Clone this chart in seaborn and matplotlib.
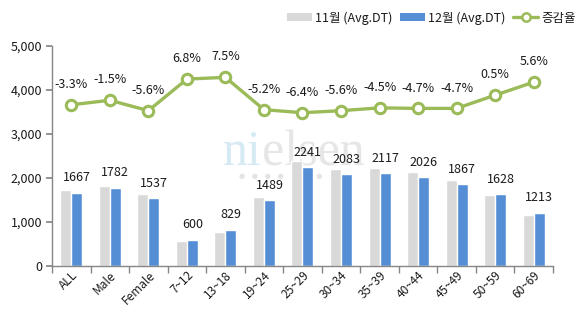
import numpy as np
import pandas as pd
import matplotlib
matplotlib.use("Agg")
import matplotlib.pyplot as plt
from matplotlib.patches import Patch
from matplotlib.lines import Line2D
from matplotlib.ticker import FuncFormatter, FixedLocator
import seaborn as sns

categories = ["ALL", "Male", "Female", "7~12", "13~18", "19~24", "25~29",
              "30~34", "35~39", "40~44", "45~49", "50~59", "60~69"]
nov_values = [1724, 1809, 1628, 562, 771, 1571, 2394, 2207, 2217, 2126, 1959, 1620, 1149]
dec_values = [1667, 1782, 1537, 600, 829, 1489, 2241, 2083, 2117, 2026, 1867, 1628, 1213]
change_rates = [-3.3, -1.5, -5.6, 6.8, 7.5, -5.2, -6.4, -5.6, -4.5, -4.7, -4.7, 0.5, 5.6]
series_names = ["11월 (Avg.DT)", "12월 (Avg.DT)"]
line_name = "증감율"

GRAY = "#D9D9D9"
BLUE = "#558ED5"
GREEN = "#9BBB59"
TEXT = "#1a1a1a"

sns.set_theme(style="white")
plt.rcParams["font.family"] = ["Noto Sans CJK KR", "DejaVu Sans"]

df = pd.DataFrame({
    "cat": categories * 2,
    "val": nov_values + dec_values,
    "month": [series_names[0]] * len(categories) + [series_names[1]] * len(categories),
})

fig = plt.figure(figsize=(5.87, 3.24), dpi=100)
ax = fig.add_axes([0.0886, 0.179, 0.8534, 0.679])
ax.patch.set_visible(False)

sns.barplot(data=df, x="cat", y="val", hue="month", palette=[GRAY, BLUE],
            width=0.57, gap=0, ax=ax, legend=False, saturation=1, order=categories)

ax.set_ylim(0, 5000)
ax.set_xlim(-0.5, len(categories) - 0.5)
ax.yaxis.set_major_locator(FixedLocator([0, 1000, 2000, 3000, 4000, 5000]))
ax.yaxis.set_major_formatter(FuncFormatter(lambda v, p: f"{int(v):,}"))
ax.set_xlabel("")
ax.set_ylabel("")
for s in ["top", "right"]:
    ax.spines[s].set_visible(False)
for s in ["left", "bottom"]:
    ax.spines[s].set_color("#868686")
    ax.spines[s].set_linewidth(1.0)
ax.tick_params(axis="y", which="major", left=True, length=4, color="#868686",
               labelsize=9, labelcolor=TEXT, pad=3)
ax.tick_params(axis="x", which="major", bottom=False, length=0, labelsize=8.5,
               labelcolor=TEXT, pad=2)
ax.set_xticks(np.arange(-0.5, len(categories), 1.0), minor=True)
ax.tick_params(axis="x", which="minor", bottom=True, length=5, color="#868686")
plt.setp(ax.get_xticklabels(), rotation=45, ha="right", rotation_mode="anchor")

# value labels on December bars
ax.bar_label(ax.containers[1], labels=[str(v) for v in dec_values], padding=6,
             fontsize=9, color=TEXT)

# secondary axis for change rate
ax2 = ax.twinx()
ax2.patch.set_visible(False)
ax2.set_ylim(-66.6, 19.8)
ax2.axis("off")
xpos = np.arange(len(categories))
sns.lineplot(x=xpos, y=change_rates, ax=ax2, color=GREEN, linewidth=2.4,
             marker="o", markersize=7.5, markerfacecolor="white",
             markeredgecolor=GREEN, markeredgewidth=2.2, legend=False)
ax2.set_xlim(-0.5, len(categories) - 0.5)
for x, r in zip(xpos, change_rates):
    ax2.annotate(f"{r:.1f}%", (x, r), xytext=(0, 10), textcoords="offset points",
                 ha="center", va="bottom", fontsize=9, color=TEXT)

# watermark
fig.text(223 / 587, 1 - 165 / 324, "ni", family="Liberation Serif", fontsize=36,
         color="#D6EAF4", va="baseline", ha="left", zorder=-5)
fig.text(262 / 587, 1 - 165 / 324, "elsen", family="Liberation Serif", fontsize=36,
         color="#E6E6E6", va="baseline", ha="left", zorder=-5)
fig.text(294 / 587, 1 - 176 / 324, "●   ●   ●   ●   ●   ●   ●   ●   ●", family="DejaVu Sans",
         fontsize=5, color="#E3E3E3", va="center", ha="center", zorder=-5)

# legend
handles = [
    Patch(facecolor=GRAY, edgecolor="none"),
    Patch(facecolor=BLUE, edgecolor="none"),
    Line2D([0], [0], color=GREEN, linewidth=2.4, marker="o", markersize=6,
           markerfacecolor="white", markeredgecolor=GREEN, markeredgewidth=1.8),
]
fig.legend(handles, series_names + [line_name], loc="upper right",
           bbox_to_anchor=(1.0, 1.0), ncol=3, frameon=False, fontsize=9,
           handlelength=2.0, handleheight=0.6, handletextpad=0.25, columnspacing=0.6,
           labelcolor=TEXT)

fig.savefig("out.png", dpi=100)
